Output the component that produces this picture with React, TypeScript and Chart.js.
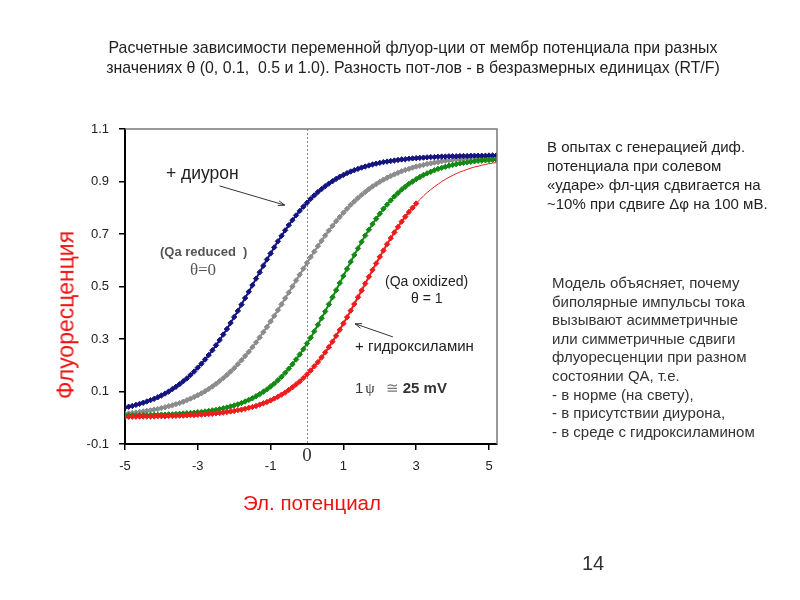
import React, { useEffect, useRef } from "react";
import { Chart, registerables } from "chart.js";

Chart.register(...registerables);

// Electric potential (dimensionless, RT/F)
const xs = [
  -5.0, -4.9, -4.8, -4.7, -4.6, -4.5, -4.4, -4.3, -4.2, -4.1,
  -4.0, -3.9, -3.8, -3.7, -3.6, -3.5, -3.4, -3.3, -3.2, -3.1,
  -3.0, -2.9, -2.8, -2.7, -2.6, -2.5, -2.4, -2.3, -2.2, -2.1,
  -2.0, -1.9, -1.8, -1.7, -1.6, -1.5, -1.4, -1.3, -1.2, -1.1,
  -1.0, -0.9, -0.8, -0.7, -0.6, -0.5, -0.4, -0.3, -0.2, -0.1,
  0.0, 0.1, 0.2, 0.3, 0.4, 0.5, 0.6, 0.7, 0.8, 0.9,
  1.0, 1.1, 1.2, 1.3, 1.4, 1.5, 1.6, 1.7, 1.8, 1.9,
  2.0, 2.1, 2.2, 2.3, 2.4, 2.5, 2.6, 2.7, 2.8, 2.9,
  3.0, 3.1, 3.2, 3.3, 3.4, 3.5, 3.6, 3.7, 3.8, 3.9,
  4.0, 4.1, 4.2, 4.3, 4.4, 4.5, 4.6, 4.7, 4.8, 4.9,
  5.0, 5.1, 5.2,
];

// + диурон (Qa reduced)
const blueDiuron = [
  0.039, 0.042, 0.045, 0.049, 0.053, 0.057, 0.062, 0.067, 0.072, 0.078,
  0.085, 0.092, 0.100, 0.109, 0.118, 0.128, 0.139, 0.150, 0.163, 0.176,
  0.191, 0.206, 0.222, 0.239, 0.257, 0.276, 0.296, 0.317, 0.338, 0.361,
  0.384, 0.407, 0.431, 0.456, 0.480, 0.505, 0.530, 0.554, 0.579, 0.603,
  0.626, 0.649, 0.672, 0.693, 0.714, 0.734, 0.753, 0.771, 0.788, 0.804,
  0.819, 0.834, 0.847, 0.860, 0.871, 0.882, 0.892, 0.901, 0.910, 0.918,
  0.925, 0.932, 0.938, 0.943, 0.948, 0.953, 0.957, 0.961, 0.965, 0.968,
  0.971, 0.974, 0.976, 0.978, 0.980, 0.982, 0.984, 0.985, 0.987, 0.988,
  0.989, 0.990, 0.991, 0.992, 0.993, 0.993, 0.994, 0.995, 0.995, 0.996,
  0.996, 0.996, 0.997, 0.997, 0.997, 0.998, 0.998, 0.998, 0.998, 0.998,
  0.999, 0.999, 0.999,
];

// θ = 0 (normal, light)
const grayTheta0 = [
  0.015, 0.016, 0.018, 0.020, 0.022, 0.024, 0.026, 0.028, 0.031, 0.033,
  0.037, 0.040, 0.044, 0.047, 0.052, 0.056, 0.061, 0.067, 0.073, 0.079,
  0.086, 0.093, 0.101, 0.110, 0.119, 0.129, 0.140, 0.151, 0.163, 0.176,
  0.189, 0.204, 0.219, 0.235, 0.251, 0.269, 0.287, 0.306, 0.326, 0.346,
  0.367, 0.388, 0.410, 0.432, 0.455, 0.477, 0.500, 0.523, 0.545, 0.568,
  0.590, 0.612, 0.633, 0.654, 0.674, 0.694, 0.713, 0.731, 0.749, 0.765,
  0.781, 0.796, 0.811, 0.824, 0.837, 0.849, 0.860, 0.871, 0.881, 0.890,
  0.899, 0.907, 0.914, 0.921, 0.927, 0.933, 0.939, 0.944, 0.948, 0.953,
  0.957, 0.960, 0.963, 0.967, 0.969, 0.972, 0.974, 0.977, 0.979, 0.980,
  0.982, 0.984, 0.985, 0.986, 0.987, 0.989, 0.990, 0.990, 0.991, 0.992,
  0.993, 0.993, 0.994,
];

// θ = 1 (Qa oxidized)
const greenTheta1 = [
  0.009, 0.009, 0.009, 0.009, 0.009, 0.010, 0.010, 0.010, 0.011, 0.011,
  0.012, 0.012, 0.013, 0.013, 0.014, 0.015, 0.016, 0.017, 0.018, 0.019,
  0.021, 0.022, 0.024, 0.026, 0.028, 0.030, 0.033, 0.036, 0.039, 0.043,
  0.047, 0.051, 0.056, 0.062, 0.068, 0.074, 0.082, 0.090, 0.099, 0.108,
  0.119, 0.130, 0.143, 0.156, 0.171, 0.187, 0.204, 0.222, 0.241, 0.261,
  0.283, 0.305, 0.329, 0.354, 0.379, 0.405, 0.432, 0.459, 0.486, 0.513,
  0.540, 0.567, 0.594, 0.620, 0.645, 0.670, 0.694, 0.716, 0.738, 0.758,
  0.777, 0.796, 0.812, 0.828, 0.843, 0.856, 0.869, 0.880, 0.891, 0.900,
  0.909, 0.917, 0.925, 0.931, 0.937, 0.943, 0.948, 0.952, 0.956, 0.960,
  0.963, 0.966, 0.969, 0.971, 0.973, 0.975, 0.977, 0.979, 0.980, 0.981,
  0.982, 0.983, 0.984,
];

// + гидроксиламин
const redHydroxylamine = [
  0.004, 0.004, 0.004, 0.004, 0.005, 0.005, 0.005, 0.005, 0.005, 0.006,
  0.006, 0.006, 0.007, 0.007, 0.007, 0.008, 0.008, 0.009, 0.010, 0.010,
  0.011, 0.012, 0.013, 0.014, 0.015, 0.017, 0.018, 0.020, 0.022, 0.024,
  0.026, 0.029, 0.031, 0.034, 0.038, 0.041, 0.045, 0.050, 0.055, 0.060,
  0.066, 0.073, 0.080, 0.088, 0.096, 0.106, 0.116, 0.127, 0.138, 0.151,
  0.165, 0.180, 0.196, 0.212, 0.230, 0.249, 0.269, 0.290, 0.312, 0.335,
  0.359, 0.383, 0.408, 0.433, 0.459, 0.485, 0.511, 0.537, 0.563, 0.588,
  0.613, 0.637, 0.661, 0.684, 0.706, 0.727, 0.747, 0.766, 0.784, 0.800,
  0.816, 0.831, 0.845, 0.858, 0.869, 0.880, 0.890, 0.900, 0.908, 0.916,
  0.923, 0.930, 0.936, 0.941, 0.946, 0.951, 0.955, 0.958, 0.962, 0.965,
  0.968, 0.970, 0.972,
];
const redMarkersUpTo = 3.0;

const xTicks = [-5, -3, -1, 1, 3, 5];
const yTicks = [-0.1, 0.1, 0.3, 0.5, 0.7, 0.9, 1.1];

// annotation arrows in data coordinates
const arrows = [
  { from: [-2.4, 0.883], to: [-0.61, 0.81] },
  { from: [2.36, 0.308], to: [1.32, 0.358] },
];

const SANS = '"Liberation Sans", Arial, sans-serif';
const SERIF = '"Liberation Serif", "Times New Roman", serif';

const overlayPlugin = {
  id: "overlay",
  beforeDatasetsDraw(chart: any) {
    const { ctx, chartArea, scales } = chart;
    const px = Math.round(scales.x.getPixelForValue(0)) + 0.5;
    ctx.save();
    ctx.strokeStyle = "#8a8a8a";
    ctx.lineWidth = 1;
    ctx.setLineDash([2, 2]);
    ctx.beginPath();
    ctx.moveTo(px, chartArea.top);
    ctx.lineTo(px, chartArea.bottom);
    ctx.stroke();
    ctx.restore();
  },
  afterDraw(chart: any) {
    const { ctx, chartArea, scales } = chart;
    ctx.save();
    ctx.strokeStyle = "#7a7a7a";
    ctx.lineWidth = 1.5;
    ctx.beginPath();
    ctx.moveTo(chartArea.left, chartArea.top);
    ctx.lineTo(chartArea.right, chartArea.top);
    ctx.lineTo(chartArea.right, chartArea.bottom);
    ctx.stroke();
    ctx.strokeStyle = "#333";
    ctx.lineWidth = 1;
    for (const a of arrows) {
      const x1 = scales.x.getPixelForValue(a.from[0]);
      const y1 = scales.y.getPixelForValue(a.from[1]);
      const x2 = scales.x.getPixelForValue(a.to[0]);
      const y2 = scales.y.getPixelForValue(a.to[1]);
      ctx.beginPath();
      ctx.moveTo(x1, y1);
      ctx.lineTo(x2, y2);
      const ang = Math.atan2(y2 - y1, x2 - x1);
      const L = 7;
      ctx.moveTo(x2, y2);
      ctx.lineTo(x2 - L * Math.cos(ang - 0.35), y2 - L * Math.sin(ang - 0.35));
      ctx.moveTo(x2, y2);
      ctx.lineTo(x2 - L * Math.cos(ang + 0.35), y2 - L * Math.sin(ang + 0.35));
      ctx.stroke();
    }
    ctx.restore();
  },
};

function series(ys: number[]) {
  return xs.map((x, i) => ({ x, y: ys[i] }));
}

function App() {
  const canvasRef = useRef<HTMLCanvasElement | null>(null);

  useEffect(() => {
    const canvas = canvasRef.current;
    if (!canvas) return;
    const common = {
      showLine: true,
      pointStyle: "rectRot",
      pointRadius: 2.7,
      pointBorderWidth: 1,
      borderWidth: 2,
      tension: 0,
    };
    const chart = new Chart(canvas, {
      type: "scatter",
      data: {
        datasets: [
          {
            ...common,
            label: "red",
            data: series(redHydroxylamine),
            borderColor: "#ee1c1c",
            backgroundColor: "#ee1c1c",
            pointRadius: (c: any) => (xs[c.dataIndex] <= redMarkersUpTo + 1e-9 ? 2.7 : 0),
            segment: {
              borderWidth: (c: any) => (xs[c.p0DataIndex] >= redMarkersUpTo - 1e-9 ? 1 : 2),
            },
          } as any,
          {
            ...common,
            label: "green",
            data: series(greenTheta1),
            borderColor: "#138a13",
            backgroundColor: "#138a13",
          },
          {
            ...common,
            label: "blue",
            data: series(blueDiuron),
            borderColor: "#141480",
            backgroundColor: "#141480",
          },
          {
            ...common,
            label: "gray",
            data: series(grayTheta0),
            borderColor: "#8c8c8c",
            backgroundColor: "#8c8c8c",
          },
        ],
      },
      options: {
        animation: false,
        responsive: false,
        maintainAspectRatio: false,
        layout: { padding: { left: 0, top: 129, right: 303, bottom: 126 } },
        plugins: {
          legend: { display: false },
          tooltip: { enabled: false },
          title: { display: false },
        },
        scales: {
          x: {
            type: "linear",
            min: -5,
            max: 5.22,
            afterFit: (s: any) => {
              s.height = 30;
            },
            afterBuildTicks: (s: any) => {
              s.ticks = xTicks.map((v) => ({ value: v }));
            },
            ticks: {
              color: "#222",
              font: { family: SANS, size: 13 },
              padding: 9,
              maxRotation: 0,
              callback: (v: any) => String(v),
            },
            grid: {
              drawOnChartArea: false,
              drawTicks: true,
              tickLength: 6,
              color: "#000",
              lineWidth: 1.5,
            },
            border: { color: "#000", width: 2 },
          },
          y: {
            type: "linear",
            min: -0.1,
            max: 1.1,
            afterFit: (s: any) => {
              s.width = 125;
            },
            afterBuildTicks: (s: any) => {
              s.ticks = yTicks.map((v) => ({ value: v }));
            },
            ticks: {
              color: "#222",
              font: { family: SANS, size: 13 },
              padding: 10,
              callback: (v: any) => Number(v).toFixed(1),
            },
            grid: {
              drawOnChartArea: false,
              drawTicks: true,
              tickLength: 6,
              color: "#000",
              lineWidth: 1.5,
            },
            border: { color: "#000", width: 2 },
          },
        },
      },
      plugins: [overlayPlugin],
    } as any);
    return () => chart.destroy();
  }, []);

  const abs = (style: React.CSSProperties): React.CSSProperties => ({
    position: "absolute",
    whiteSpace: "nowrap",
    fontFamily: SANS,
    ...style,
  });

  return (
    <div
      style={{
        position: "fixed",
        left: 0,
        top: 0,
        width: 800,
        height: 600,
        background: "#fff",
        overflow: "hidden",
      }}
    >
      <canvas ref={canvasRef} width={800} height={600} style={{ position: "absolute", left: 0, top: 0, width: 800, height: 600 }} />

      <div
        style={abs({
          left: 0,
          width: 826,
          top: 38,
          fontSize: 15.9,
          lineHeight: "19.5px",
          textAlign: "center",
          color: "#222",
        })}
      >
        <div>Расчетные зависимости переменной флуор-ции от мембр потенциала при разных</div>
        <div>значениях θ (0, 0.1,&nbsp; 0.5 и 1.0). Разность пот-лов - в безразмерных единицах (RT/F)</div>
      </div>

      <div style={abs({ left: 547, top: 137, fontSize: 15, lineHeight: "19px", color: "#222" })}>
        <div>В опытах с генерацией диф.</div>
        <div>потенциала при солевом</div>
        <div>«ударе» фл-ция сдвигается на</div>
        <div>~10% при сдвиге Δφ на 100 мВ.</div>
      </div>

      <div style={abs({ left: 552, top: 274, fontSize: 15, lineHeight: "18.6px", color: "#333" })}>
        <div>Модель объясняет, почему</div>
        <div>биполярные импульсы тока</div>
        <div>вызывают асимметричные</div>
        <div>или симметричные сдвиги</div>
        <div>флуоресценции при разном</div>
        <div>состоянии QA, т.е.</div>
        <div>- в норме (на свету),</div>
        <div>- в присутствии диурона,</div>
        <div>- в среде с гидроксиламином</div>
      </div>

      <div
        style={abs({
          left: 66,
          top: 315,
          transform: "translate(-50%, -50%) rotate(-90deg)",
          fontSize: 23,
          color: "#ee1111",
        })}
      >
        Флуоресценция
      </div>
      <div style={abs({ left: 312, top: 503, transform: "translate(-50%, -50%)", fontSize: 20.5, color: "#ee1111" })}>
        Эл. потенциал
      </div>
      <div style={abs({ left: 307, top: 455, transform: "translate(-50%, -50%)", fontSize: 19, fontFamily: SERIF, color: "#333" })}>
        0
      </div>

      <div style={abs({ left: 166, top: 173, transform: "translateY(-50%)", fontSize: 17.5, color: "#222" })}>+ диурон</div>
      <div style={abs({ left: 160, top: 251, transform: "translateY(-50%)", fontSize: 13, fontWeight: "bold", color: "#555" })}>
        (Qa reduced&nbsp; )
      </div>
      <div style={abs({ left: 203, top: 270, transform: "translate(-50%, -50%)", fontSize: 17, fontFamily: SERIF, color: "#555" })}>
        θ=0
      </div>
      <div style={abs({ left: 385, top: 281, transform: "translateY(-50%)", fontSize: 14, color: "#222" })}>(Qa oxidized)</div>
      <div style={abs({ left: 411, top: 298, transform: "translateY(-50%)", fontSize: 14, color: "#222" })}>θ = 1</div>
      <div style={abs({ left: 355, top: 345, transform: "translateY(-50%)", fontSize: 15, color: "#222" })}>+ гидроксиламин</div>
      <div style={abs({ left: 355, top: 388, transform: "translateY(-50%)", fontSize: 15, color: "#333" })}>
        1<span style={{ fontFamily: SERIF, marginLeft: 2 }}>ψ</span>
        <span style={{ marginLeft: 11, color: "#777" }}>≅</span>
        <span style={{ marginLeft: 4, fontWeight: "bold" }}>25 mV</span>
      </div>

      <div style={abs({ left: 593, top: 563, transform: "translate(-50%, -50%)", fontSize: 20, color: "#333" })}>14</div>
    </div>
  );
}

export default App;
